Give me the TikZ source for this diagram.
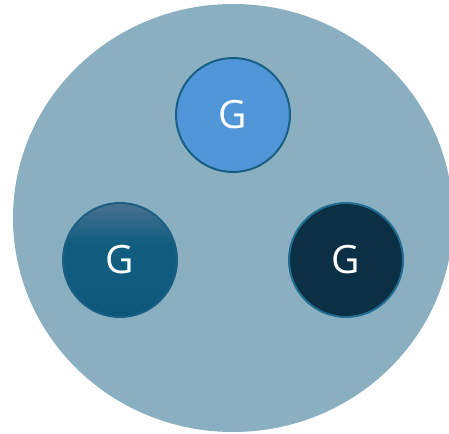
\documentclass[tikz,border=0pt]{standalone}
\usepackage{fontspec}
\setmainfont{Open Sans}
\usepackage{xcolor}
\usepackage{tikz}
\usetikzlibrary{shapes, positioning}
\definecolor{PaleSteel}{HTML}{8AAFC0}
\definecolor{SkyBlue}{HTML}{5096D8}
\definecolor{RimBlue}{HTML}{1A5F84}
\definecolor{PetrolTop}{HTML}{4A7191}
\definecolor{Petrol}{HTML}{105D80}
\definecolor{DeepPetrol}{HTML}{0C567A}
\definecolor{NightBlue}{HTML}{0B2F44}
\definecolor{RimLight}{HTML}{226D94}
\pgfdeclareverticalshading{petrolfade}{100bp}{
  color(0bp)=(DeepPetrol); color(25bp)=(DeepPetrol); color(45bp)=(Petrol);
  color(57bp)=(Petrol); color(75bp)=(PetrolTop); color(100bp)=(PetrolTop)}

\begin{document}
\begin{tikzpicture}[x=1pt, y=-1pt,
    gball/.style={circle, minimum size=114pt, inner sep=0pt, line width=2pt,
      font=\fontsize{39}{39}\selectfont, text=white}]
    \useasboundingbox (0,0) rectangle (449,433);
    \fill[PaleSteel] (233,218) ellipse [x radius=220, y radius=214];
    \node[gball, draw=RimBlue, fill=SkyBlue] (topG) at (233,115) {G};
    \node[gball, draw=RimBlue, shading=petrolfade] (leftG) at (120,260) {G};
    \node[gball, draw=RimLight, fill=NightBlue] (rightG) at (346,260) {G};
  \end{tikzpicture}
\end{document}
